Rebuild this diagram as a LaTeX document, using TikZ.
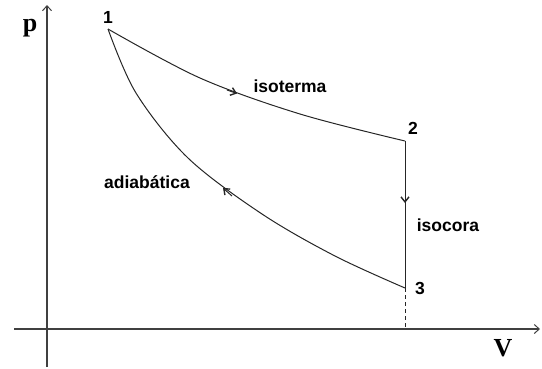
\documentclass[tikz,border=0pt]{standalone}
\usepackage{fontspec}
\setmainfont{Liberation Serif}
\newfontfamily\labfont{Liberation Sans}
\usetikzlibrary{arrows.meta}
\tikzset{
  axisline/.style={line width=1.6pt, draw=black!75, -{Straight Barb[length=5pt,width=9pt,line width=1pt]}},
  curveline/.style={line width=1pt, draw=black!85},
  tipmark/.style={line width=1pt, draw=black!85, -{Straight Barb[length=5pt,width=8pt,line width=1.4pt]}},
  axislabel/.style={font=\fontsize{26}{26}\selectfont\bfseries, inner sep=0pt},
  curvelabel/.style={font=\labfont\fontsize{17.5}{17.5}\selectfont\bfseries, inner sep=0pt},
}
\begin{document}
\begin{tikzpicture}[x=1pt,y=-1pt]
\useasboundingbox (0,0) rectangle (542,368);
% axes
\coordinate (ybot) at (47,367);
\coordinate (ytop) at (47,5);
\coordinate (xleft) at (14,329);
\coordinate (xright) at (540,329);
\draw[axisline] (ybot) -- (ytop);
\draw[axisline] (xleft) -- (xright);
\node[axislabel] (plab) at (30,28) {p};
\node[axislabel] (vlab) at (503,348) {V};
% state points
\coordinate (p1) at (108,29);
\coordinate (p2) at (405,141);
\coordinate (p3) at (405,288);
\coordinate (v3) at (405,329);
% isotherm 1 -> 2
\draw[curveline] plot[smooth, tension=0.55] coordinates {(108,29) (200,78) (300,114) (405,141)};
% isochore 2 -> 3
\draw[curveline] (p2) -- (p3);
% adiabat 3 -> 1
\draw[curveline] plot[smooth, tension=0.55] coordinates {(108,29) (136,93) (188,158) (262,214) (335,256) (405,288)};
% dashed projection
\draw[line width=1pt, draw=black!85, dash pattern=on 4pt off 3pt] (p3) -- (v3);
% direction arrows
\coordinate (ta1) at (227,90);
\coordinate (ta2) at (237,93.5);
\draw[tipmark] (ta1) -- (ta2);
\coordinate (tb1) at (405,192);
\coordinate (tb2) at (405,203);
\draw[tipmark] (tb1) -- (tb2);
\coordinate (tc1) at (232,196);
\coordinate (tc2) at (223,188);
\draw[tipmark] (tc1) -- (tc2);
% labels
\node[curvelabel] (n1) at (108,17) {1};
\node[curvelabel] (n2) at (413,128) {2};
\node[curvelabel] (n3) at (420,288) {3};
\node[curvelabel] (iso) at (290,86) {isoterma};
\node[curvelabel] (isoc) at (448,225) {isocora};
\node[curvelabel] (adi) at (147,182) {adiabática};
\end{tikzpicture}
\end{document}
